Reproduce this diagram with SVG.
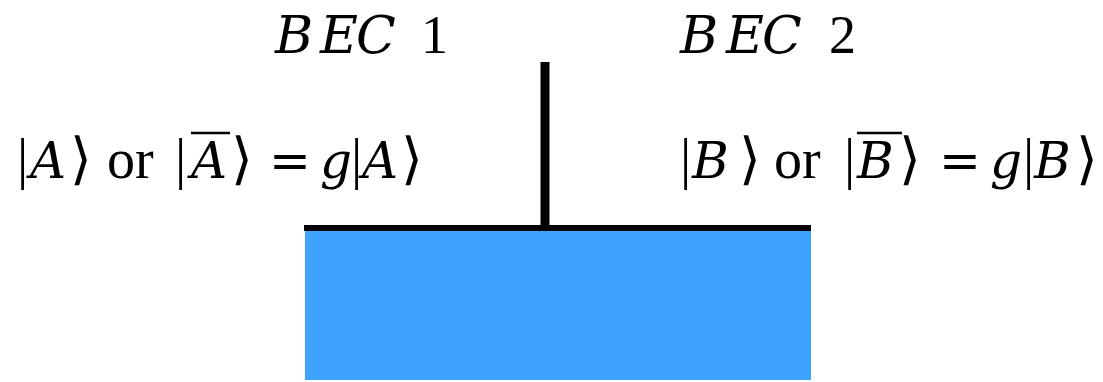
<svg xmlns="http://www.w3.org/2000/svg" width="1103" height="382" viewBox="0 0 1103 382">
<style>
.t{font-family:"Liberation Serif","DejaVu Serif",serif;font-size:56px;fill:#000}
.h{font-size:54px}
.m{font-family:"DejaVu Serif",serif;font-style:italic;font-size:50px}
.b{font-size:52px}
.e{font-family:"DejaVu Serif",serif;font-size:50px}
.ov{stroke:#000;stroke-width:2.5}
</style>
<rect width="1103" height="382" fill="#fff"/>
<g id="bath">
<rect x="305" y="230" width="506" height="150" fill="#3EA2FF"/>
</g>
<g id="connectors">
<line x1="304" y1="228" x2="811" y2="228" stroke="#000" stroke-width="6"/>
<line x1="545" y1="62" x2="545" y2="229" stroke="#000" stroke-width="9"/>
</g>
<g id="bec1">
<text class="t h" y="53"><tspan class="m b" x="275">B</tspan><tspan class="m b" x="320">E</tspan><tspan class="m b" x="356">C</tspan><tspan x="421">1</tspan></text>
<text class="t" y="178"><tspan x="17">|</tspan><tspan class="m" x="30">A</tspan><tspan x="70">⟩</tspan><tspan x="107">or</tspan><tspan x="175">|</tspan><tspan class="m" x="191">A</tspan><tspan x="231">⟩</tspan><tspan class="e" x="269">=</tspan><tspan class="m" x="320">g</tspan><tspan x="351">|</tspan><tspan class="m" x="362">A</tspan><tspan x="401">⟩</tspan></text>
<line class="ov" x1="191" y1="133" x2="230" y2="133"/>
</g>
<g id="bec2">
<text class="t h" y="53"><tspan class="m b" x="680">B</tspan><tspan class="m b" x="726">E</tspan><tspan class="m b" x="762">C</tspan><tspan x="829">2</tspan></text>
<text class="t" y="178"><tspan x="680">|</tspan><tspan class="m" x="692">B</tspan><tspan x="739">⟩</tspan><tspan x="774">or</tspan><tspan x="844">|</tspan><tspan class="m" x="857">B</tspan><tspan x="899">⟩</tspan><tspan class="e" x="939">=</tspan><tspan class="m" x="990">g</tspan><tspan x="1023">|</tspan><tspan class="m" x="1034">B</tspan><tspan x="1076">⟩</tspan></text>
<line class="ov" x1="857" y1="133" x2="902" y2="133"/>
</g>
</svg>
